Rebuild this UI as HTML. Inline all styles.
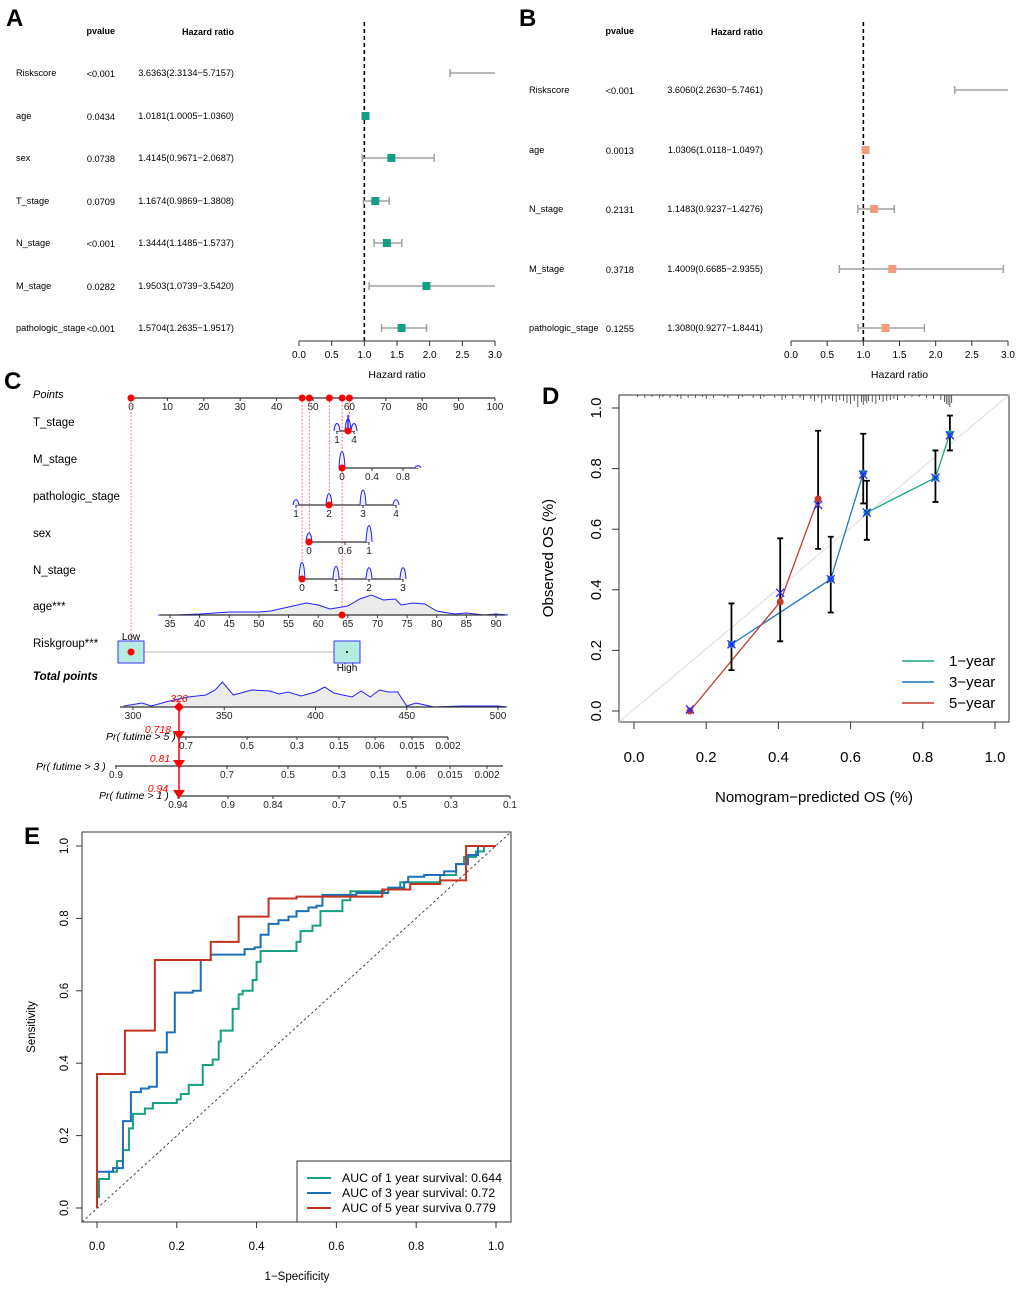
<!DOCTYPE html>
<html><head><meta charset="utf-8">
<style>
html,body{margin:0;padding:0;background:#fff;}
svg{display:block;font-family:"Liberation Sans",Arial,sans-serif;}
</style></head>
<body>
<svg id="fig" width="1020" height="1289" viewBox="0 0 1020 1289" xmlns="http://www.w3.org/2000/svg">
<g id="gA"></g>
<g id="gB"></g>
<g id="gC"></g>
<g id="gD"></g>
<g id="gE"></g>
</svg>
<script>
// ---------- Panel A data ----------
const aVars = ["Riskscore","age","sex","T_stage","N_stage","M_stage","pathologic_stage"];
const aP = ["<0.001","0.0434","0.0738","0.0709","<0.001","0.0282","<0.001"];
const aHR = [3.6363,1.0181,1.4145,1.1674,1.3444,1.9503,1.5704];
const aLo = [2.3134,1.0005,0.9671,0.9869,1.1485,1.0739,1.2635];
const aHi = [5.7157,1.0360,2.0687,1.3808,1.5737,3.5420,1.9517];
// ---------- Panel B data ----------
const bVars = ["Riskscore","age","N_stage","M_stage","pathologic_stage"];
const bP = ["<0.001","0.0013","0.2131","0.3718","0.1255"];
const bHR = [3.6060,1.0306,1.1483,1.4009,1.3080];
const bLo = [2.2630,1.0118,0.9237,0.6685,0.9277];
const bHi = [5.7461,1.0497,1.4276,2.9355,1.8441];
const hrTicks = [0,0.5,1,1.5,2,2.5,3];
// ---------- Panel D data ----------
const d1x=[0.645,0.835,0.875], d1y=[0.655,0.77,0.915], d1lo=[0.565,0.69,0.86], d1hi=[0.76,0.86,0.975];
const d3x=[0.27,0.545,0.635], d3y=[0.22,0.435,0.785], d3lo=[0.135,0.325,0.685], d3hi=[0.355,0.575,0.915];
const d5x=[0.155,0.405,0.51], d5y=[0.0,0.36,0.70], d5lo=[null,0.23,0.535], d5hi=[null,0.57,0.925];
const dXmx=[0.155,0.27,0.405,0.51,0.545,0.635,0.645,0.835,0.875];
const dXmy=[0.005,0.22,0.39,0.68,0.435,0.78,0.655,0.77,0.91];
const dTicks=[0,0.2,0.4,0.6,0.8,1.0];
const dRug=[0.01,0.03,0.05,0.07,0.08,0.1,0.12,0.13,0.15,0.17,0.19,0.2,0.22,0.25,0.26,0.29,0.3,0.33,0.35,0.36,0.39,0.41,0.42,0.44,0.46,0.47,0.49,0.5,0.51,0.52,0.53,0.54,0.55,0.56,0.57,0.58,0.59,0.6,0.61,0.62,0.63,0.635,0.64,0.645,0.65,0.66,0.67,0.68,0.69,0.7,0.71,0.72,0.73,0.75,0.77,0.79,0.81,0.83,0.85,0.86,0.865,0.87,0.875,0.88];
const dRugH=[2,3,2,3,2,3,2,4,3,3,2,4,3,2,3,4,2,3,4,2,3,5,3,4,3,5,4,6,3,8,5,4,6,7,5,6,8,9,6,12,7,10,6,8,6,7,9,5,7,6,5,4,5,3,2,2,3,4,5,7,9,10,12,8];
// ---------- Panel E data (step points: fpr, tpr) ----------
const e1f=[0,0.005,0.03,0.05,0.065,0.08,0.09,0.12,0.14,0.2,0.21,0.23,0.265,0.29,0.305,0.31,0.34,0.355,0.365,0.39,0.4,0.41,0.5,0.51,0.54,0.56,0.615,0.635,0.72,0.76,0.86,0.9,0.92,0.95,0.97,1.0];
const e1t=[0.03,0.08,0.10,0.13,0.16,0.22,0.26,0.275,0.29,0.30,0.315,0.34,0.395,0.41,0.46,0.49,0.55,0.59,0.60,0.63,0.68,0.71,0.735,0.765,0.78,0.82,0.85,0.875,0.88,0.90,0.92,0.95,0.97,0.985,1.0,1.0];
const e3f=[0,0.04,0.065,0.085,0.11,0.13,0.15,0.175,0.195,0.24,0.26,0.285,0.37,0.395,0.41,0.43,0.455,0.48,0.5,0.53,0.55,0.565,0.65,0.73,0.77,0.78,0.82,0.87,0.9,0.93,0.955,1.0];
const e3t=[0.10,0.11,0.24,0.32,0.33,0.335,0.43,0.485,0.595,0.60,0.685,0.70,0.715,0.72,0.755,0.785,0.795,0.805,0.82,0.83,0.835,0.865,0.87,0.885,0.90,0.915,0.92,0.93,0.95,0.975,1.0,1.0];
const e5f=[0,0.07,0.145,0.285,0.355,0.43,0.5,0.715,0.785,0.86,0.925,1.0];
const e5t=[0.37,0.49,0.685,0.735,0.805,0.855,0.86,0.88,0.895,0.905,1.0,1.0];
const eTicks=[0,0.2,0.4,0.6,0.8,1.0];
const eLegend=["AUC of 1 year survival:  0.644","AUC of 3 year survival:  0.72","AUC of 5 year surviva 0.779"];
// ---------- Panel C data ----------
const cPointTicks=[0,10,20,30,40,50,60,70,80,90,100];
const cSelPoints=[0,47,49,54.5,58,60];
const ageAges=[33,36,40,45,50,52,55,58,60,62,65,67,69,71,73,74,76,78,80,83,85,88,90,92];
const ageDens=[0,0,1,3,3,4,8,12,10,6,9,16,20,15,16,10,12,11,4,1,2,0,1,0];
const totVals=[295,305,310,320,330,340,345,349,355,365,375,380,385,392,400,405,410,420,425,430,435,440,445,450,455,460,465,480,500,505];
const totDens=[1,4,1,6,10,12,17,25,12,17,16,13,15,11,15,20,14,10,16,10,17,15,15,1,4,2,0,1,1,0];

const NS="http://www.w3.org/2000/svg";
function el(parent,tag,attrs,text){const e=document.createElementNS(NS,tag);for(const k in attrs)e.setAttribute(k,attrs[k]);if(text!==undefined)e.textContent=text;parent.appendChild(e);return e;}

// ---------- Forest plot ----------
function forest(g,cfg){
  const sx=v=>cfg.x0+(v/3)*(cfg.x1-cfg.x0);
  let t=el(g,'text',{x:cfg.lx-10,y:26,'font-size':24,'font-weight':'bold'},cfg.letter);
  
  
  t=el(g,'text',{x:cfg.pR,y:34,'font-size':9,'font-weight':'bold','text-anchor':'end'},'pvalue');
  
  
  t=el(g,'text',{x:cfg.hrR,y:35,'font-size':9,'font-weight':'bold','text-anchor':'end'},'Hazard ratio');
  
  
  const n=cfg.vars.length;
  const dash=el(g,'line',{x1:sx(1),x2:sx(1),y1:22,y2:cfg.axisY,stroke:'#000','stroke-width':1.6,'stroke-dasharray':'4,3'});
  
  
  for(let i=0;i<n;i++){
    const y=cfg.rowY[i];
    t=el(g,'text',{x:cfg.lx,y:y+3,'font-size':9.2},cfg.vars[i]);
    
    
    t=el(g,'text',{x:cfg.pR,y:y+4,'font-size':9.2,'text-anchor':'end'},cfg.p[i]);
    
    
    t=el(g,'text',{x:cfg.hrR,y:y+3,'font-size':9.2,'text-anchor':'end'},cfg.hr[i].toFixed(4)+'('+cfg.lo[i].toFixed(4)+'\u2212'+cfg.hi[i].toFixed(4)+')');
    
    
    const lo=Math.max(0,cfg.lo[i]),hi=Math.min(3,cfg.hi[i]);
    const ci=el(g,'path',{d:`M${sx(lo)},${y}H${sx(hi)}M${sx(lo)},${y-4}V${y+4}`+(cfg.hi[i]<=3?`M${sx(hi)},${y-4}V${y+4}`:''),stroke:'#a0a0a0','stroke-width':1.5,fill:'none'});
    
    
    if(cfg.hr[i]<=3){
      const r=el(g,'rect',{x:sx(cfg.hr[i])-4,y:y-4,width:8,height:8,fill:cfg.color});
      
      
    }
  }
  const ax=el(g,'path',{d:`M${sx(0)},${cfg.axisY}H${sx(3)}`,stroke:'#333','stroke-width':1});
  
  
  hrTicks.forEach(v=>{
    el(g,'line',{x1:sx(v),x2:sx(v),y1:cfg.axisY,y2:cfg.axisY+5,stroke:'#333'});
    t=el(g,'text',{x:sx(v),y:cfg.axisY+17,'font-size':10,'text-anchor':'middle'},v.toFixed(1));
    
    
  });
  t=el(g,'text',{x:(sx(0)+sx(3))/2,y:cfg.axisY+37,'font-size':10.5,'text-anchor':'middle'},'Hazard ratio');
  
  
}
forest(document.getElementById('gA'),{letter:'A',lx:16,pR:115,hrR:234,x0:299,x1:495,axisY:341,color:'#149e87',
  vars:aVars,p:aP,hr:aHR,lo:aLo,hi:aHi,rowY:[73,116,158,201,243,286,328]});
forest(document.getElementById('gB'),{letter:'B',lx:529,pR:634,hrR:763,x0:791,x1:1008,axisY:341,color:'#f2997e',
  vars:bVars,p:bP,hr:bHR,lo:bLo,hi:bHi,rowY:[90,150,209,269,328]});

// ---------- Panel C nomogram ----------
(function(){
  const g=document.getElementById('gC');
  const px=v=>131+v*3.64;
  let t=el(g,'text',{x:4,y:389,'font-size':24,'font-weight':'bold'},'C');
  
  
  function axis(y,x1,x2,ticks){
    el(g,'line',{x1:x1,x2:x2,y1:y,y2:y,stroke:'#333','stroke-width':1.2});
    ticks.forEach(tk=>{
      el(g,'line',{x1:tk[0],x2:tk[0],y1:y,y2:y+3,stroke:'#333'});
      const tt=el(g,'text',{x:tk[0],y:y+12,'font-size':10,'text-anchor':'middle',fill:'#222'},tk[1]);
      
      
    });
  }
  function label(y,txt,opts){
    const tt=el(g,'text',Object.assign({x:33,y:y,'font-size':11.5},opts||{}),txt);
    
    
  }
  label(398,'Points',{'font-style':'italic','font-size':11});
  axis(398,131,495,cPointTicks.map(v=>[px(v),String(v)]));
  const guideEnds=[652,579,542,505,615,431];
  cSelPoints.forEach((v,i)=>{
    const l=el(g,'line',{x1:px(v),x2:px(v),y1:398,y2:guideEnds[i],stroke:'#f08080','stroke-width':1,'stroke-dasharray':'2,1.5'});
    
    
  });
  function spike(x,y,h){el(g,'path',{d:`M${x-3},${y}C${x-2},${y-h} ${x+2},${y-h} ${x+3},${y}`,stroke:'#22f',fill:'#eee','stroke-width':1});}
  label(426,'T_stage');
  axis(431,336,355,[[337,'1'],[354,'4']]);
  spike(337,431,10);spike(348,431,16);spike(354,431,10);
  el(g,'line',{x1:348,x2:348,y1:415,y2:431,stroke:'#22f','stroke-width':1.5});
  label(463,'M_stage');
  axis(468,341,418,[[342,'0'],[372,'0.4'],[403,'0.8']]);
  spike(342,468,22);spike(418,468,3);
  label(500,'pathologic_stage');
  axis(505,296,396,[[296,'1'],[329,'2'],[363,'3'],[396,'4']]);
  spike(296,505,7);spike(329,505,15);spike(363,505,20);spike(396,505,7);
  label(537,'sex');
  axis(542,309,369,[[309,'0'],[345,'0.6'],[369,'1']]);
  spike(309,542,12);spike(369,542,22);
  label(574,'N_stage');
  axis(579,302,403,[[302,'0'],[336,'1'],[369,'2'],[403,'3']]);
  spike(302,579,22);spike(336,579,17);spike(369,579,15);spike(403,579,15);
  label(610,'age***');
  const ax=a=>170+(a-35)*(326/55);
  let d=`M${ax(ageAges[0])},615`;ageAges.forEach((a,i)=>d+=`L${ax(a)},${615-ageDens[i]}`);d+=`L${ax(ageAges[ageAges.length-1])},615Z`;
  const ad=el(g,'path',{d:d,fill:'#ebebeb',stroke:'#22f','stroke-width':1});
  
  
  axis(615,160,505,[35,40,45,50,55,60,65,70,75,80,85,90].map(a=>[ax(a),String(a)]));
  label(647,'Riskgroup***');
  el(g,'line',{x1:144,x2:334,y1:652,y2:652,stroke:'#bbb'});
  el(g,'rect',{x:118,y:641,width:26,height:22,fill:'#b6ece0',stroke:'#33f','stroke-width':1});
  el(g,'rect',{x:334,y:641,width:26,height:22,fill:'#b6ece0',stroke:'#33f','stroke-width':1});
  el(g,'circle',{cx:347,cy:652,r:1,fill:'#000'});
  el(g,'text',{x:131,y:640,'font-size':10,'text-anchor':'middle'},'Low');
  el(g,'text',{x:347,y:671,'font-size':10,'text-anchor':'middle'},'High');
  label(680,'Total points',{'font-weight':'bold','font-style':'italic','font-size':11.5});
  const tx=v=>133+(v-300)*(365/200);
  d=`M${tx(totVals[0])},707`;totVals.forEach((v,i)=>d+=`L${tx(v)},${707-totDens[i]}`);d+=`L${tx(totVals[totVals.length-1])},707Z`;
  const td=el(g,'path',{d:d,fill:'#ebebeb',stroke:'#22f','stroke-width':1});
  
  
  axis(707,120,505,[300,350,400,450,500].map(v=>[tx(v),String(v)]));
  label(740,'Pr( futime > 5 )',{x:106,'font-style':'italic','font-size':10.5});
  axis(737,180,448,[[186,'0.7'],[247,'0.5'],[297,'0.3'],[339,'0.15'],[375,'0.06'],[412,'0.015'],[448,'0.002']]);
  label(770,'Pr( futime > 3 )',{x:36,'font-style':'italic','font-size':10.5});
  axis(766,115,503,[[116,'0.9'],[227,'0.7'],[288,'0.5'],[339,'0.3'],[380,'0.15'],[416,'0.06'],[450,'0.015'],[487,'0.002']]);
  label(799,'Pr( futime > 1 )',{x:99,'font-style':'italic','font-size':10.5});
  axis(796,180,510,[[178,'0.94'],[228,'0.9'],[273,'0.84'],[339,'0.7'],[400,'0.5'],[451,'0.3'],[510,'0.1']]);
  cSelPoints.forEach(v=>el(g,'circle',{cx:px(v),cy:398,r:3.5,fill:'#f00'}));
  [[348,431],[342,468],[329,505],[309,542],[302,579],[342,615],[131,652]].forEach(p=>el(g,'circle',{cx:p[0],cy:p[1],r:3.5,fill:'#f00'}));
  el(g,'line',{x1:179,x2:179,y1:707,y2:796,stroke:'#f00','stroke-width':1.5});
  el(g,'path',{d:'M179,702L184,707L179,712L174,707Z',fill:'#f00'});
  [737,766,796].forEach(y=>el(g,'path',{d:`M173,${y-6}H185L179,${y+3}Z`,fill:'#f00'}));
  [['326',179,702],['0.718',158,733],['0.81',160,762],['0.94',158,792]].forEach(a=>{
    const tt=el(g,'text',{x:a[1],y:a[2],'font-size':10.5,'font-style':'italic',fill:'#f00','text-anchor':'middle'},a[0]);
    
    
  });
})();

// ---------- Panel D calibration ----------
(function(){
  const g=document.getElementById('gD');
  const sx=v=>634+v*361, sy=v=>711-v*303;
  let t=el(g,'text',{x:542,y:404,'font-size':24,'font-weight':'bold'},'D');
  
  
  el(g,'rect',{x:619,y:395,width:390,height:327,fill:'none',stroke:'#333','stroke-width':1});
  el(g,'line',{x1:619,y1:722,x2:1009,y2:395,stroke:'#ddd','stroke-width':1});
  dRug.forEach((v,i)=>el(g,'line',{x1:sx(v),x2:sx(v),y1:395,y2:395+dRugH[i],stroke:'#333','stroke-width':0.8}));
  dTicks.forEach(v=>{
    el(g,'line',{x1:sx(v),x2:sx(v),y1:722,y2:729,stroke:'#333'});
    const a=el(g,'text',{x:sx(v),y:762,'font-size':15,'text-anchor':'middle'},v.toFixed(1));
    
    
    el(g,'line',{x1:612,x2:619,y1:sy(v),y2:sy(v),stroke:'#333'});
    const b=el(g,'text',{x:596,y:sy(v),'font-size':15,'text-anchor':'middle',transform:`rotate(-90 596 ${sy(v)})`,dy:5},v.toFixed(1));
    
    
  });
  t=el(g,'text',{x:814,y:802,'font-size':15,'text-anchor':'middle'},'Nomogram\u2212predicted OS (%)');
  
  
  t=el(g,'text',{x:553,y:558,'font-size':15,'text-anchor':'middle',transform:'rotate(-90 553 558)'},'Observed OS (%)');
  
  
  const series=[[d1x,d1y,d1lo,d1hi,'#1aa386','1-year'],[d3x,d3y,d3lo,d3hi,'#1f78c0','3-year'],[d5x,d5y,d5lo,d5hi,'#c0392b','5-year']];
  series.forEach(s=>{
    let d='';s[0].forEach((x,i)=>d+=(i?'L':'M')+sx(x)+','+sy(s[1][i]));
    const l=el(g,'path',{d:d,stroke:s[4],fill:'none','stroke-width':1.3});
    
    
  });
  series.forEach(s=>{
    s[0].forEach((x,i)=>{
      if(s[2][i]!==null){
        const e=el(g,'path',{d:`M${sx(x)},${sy(s[2][i])}V${sy(s[3][i])}M${sx(x)-3},${sy(s[2][i])}H${sx(x)+3}M${sx(x)-3},${sy(s[3][i])}H${sx(x)+3}`,stroke:'#000','stroke-width':1.8,fill:'none'});
        
        
      }
      const c=el(g,'circle',{cx:sx(x),cy:sy(s[1][i]),r:3.5,fill:s[4]});
      
      
    });
  });
  dXmx.forEach((x,i)=>{
    const cx=sx(x),cy=sy(dXmy[i]);
    const m=el(g,'path',{d:`M${cx-4},${cy-4}L${cx+4},${cy+4}M${cx-4},${cy+4}L${cx+4},${cy-4}`,stroke:'#22f','stroke-width':1.3});
    
    
  });
  series.forEach((s,i)=>{
    const y=661+i*21;
    el(g,'line',{x1:902,x2:934,y1:y,y2:y,stroke:s[4],'stroke-width':1.5});
    const lt=el(g,'text',{x:949,y:y+5,'font-size':15},s[5].replace('-','\u2212'));
    
    
  });
})();

// ---------- Panel E ROC ----------
(function(){
  const g=document.getElementById('gE');
  const sx=v=>97+v*399, sy=v=>1208-v*362;
  let t=el(g,'text',{x:24,y:844,'font-size':24,'font-weight':'bold'},'E');
  
  
  el(g,'rect',{x:82,y:832,width:429,height:390,fill:'none',stroke:'#333','stroke-width':1});
  el(g,'line',{x1:82,y1:1222,x2:511,y2:832,stroke:'#333','stroke-width':0.9,'stroke-dasharray':'2.5,2.5'});
  eTicks.forEach(v=>{
    el(g,'line',{x1:sx(v),x2:sx(v),y1:1222,y2:1228,stroke:'#333'});
    const a=el(g,'text',{x:sx(v),y:1250,'font-size':11.5,'text-anchor':'middle'},v.toFixed(1));
    
    
    el(g,'line',{x1:76,x2:82,y1:sy(v),y2:sy(v),stroke:'#333'});
    const b=el(g,'text',{x:64,y:sy(v),'font-size':11.5,'text-anchor':'middle',dy:4,transform:`rotate(-90 64 ${sy(v)})`},v.toFixed(1));
    
    
  });
  t=el(g,'text',{x:297,y:1280,'font-size':11.5,'text-anchor':'middle'},'1\u2212Specificity');
  
  
  t=el(g,'text',{x:35,y:1027,'font-size':11.5,'text-anchor':'middle',transform:'rotate(-90 35 1027)'},'Sensitivity');
  
  
  const curves=[[e1f,e1t,'#18a084'],[e3f,e3t,'#1c6fb8'],[e5f,e5t,'#c43320']];
  curves.forEach((c,k)=>{
    let d=`M${sx(0)},${sy(0)}`;
    c[0].forEach((f,i)=>{d+=`H${sx(f)}V${sy(c[1][i])}`;});
    const p=el(g,'path',{d:d,stroke:c[2],fill:'none','stroke-width':2});
    
    
  });
  el(g,'rect',{x:297,y:1161,width:214,height:61,fill:'#fff',stroke:'#333','stroke-width':1});
  curves.forEach((c,i)=>{
    const y=1178+i*15;
    el(g,'line',{x1:307,x2:331,y1:y,y2:y,stroke:c[2],'stroke-width':2});
    const lt=el(g,'text',{x:342,y:y+4,'font-size':12.3},eLegend[i]);
    
    
  });
})();
</script>
</body></html>
